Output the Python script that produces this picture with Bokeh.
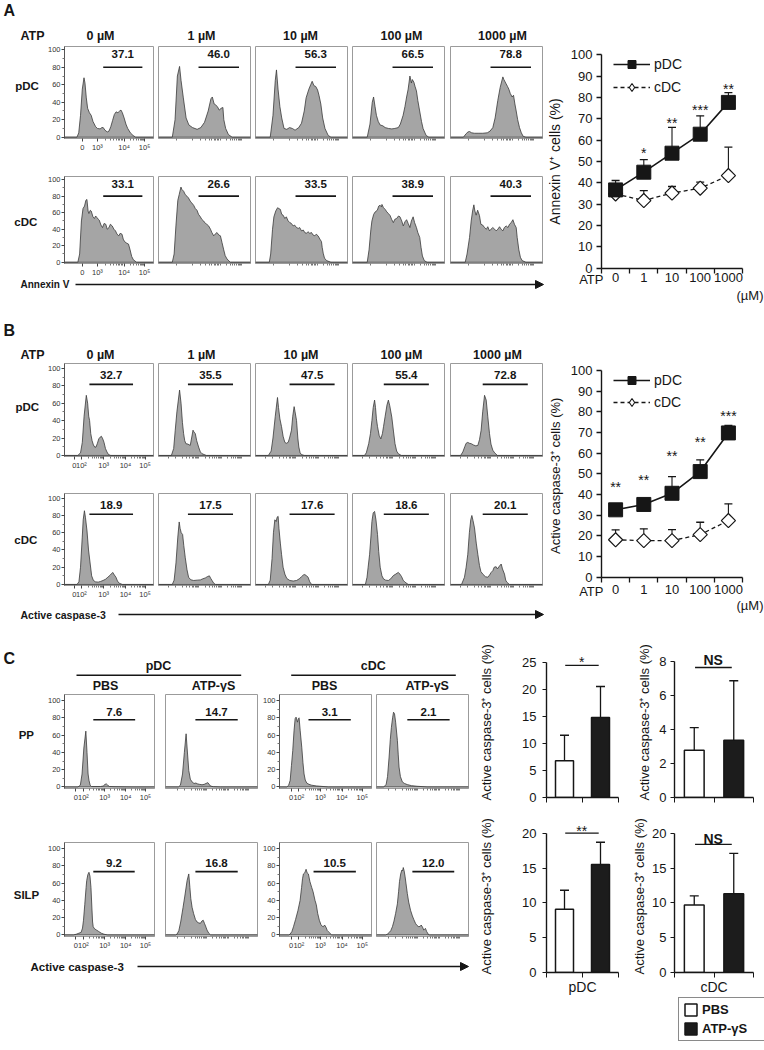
import math
from bokeh.plotting import figure
from bokeh.layouts import row, column
from bokeh.models import (Range1d, FixedTicker, Label, Arrow, NormalHead, Legend, LegendItem,
                          LinearAxis, Spacer)
from bokeh.core.properties import value
from bokeh.embed import file_html
from bokeh.resources import INLINE

FONT = "Liberation Sans"
INK = "#161616"
HIST_FILL = "#a5a5a5"
HIST_LINE = "#3a3a3a"
FRAME = "#9b9b9b"

# ============================ DATA ============================
conc_labels = ["0", "1", "10", "100", "1000"]
conc_headers = ["0 µM", "1 µM", "10 µM", "100 µM", "1000 µM"]

# ---- (A) Annexin V histograms: vertices (display position 0-100, % of mode)
A_pdc_0 = [(14,0),(16,5),(18,25),(20,55),(21.9,68),(23,62),(24.5,45),(26,33),(28,28),(30,25),(32,18),(35,12),(37,10),(40,9.5),(42,11),(43.5,11),(45.5,8),(48,6),(50,7),(52,12),(54,19),(56,26),(58,29),(60,28),(62,30),(63.5,31),(65,28),(67,22),(69,15),(71,10),(74,5),(77,2),(80,0)]
A_pdc_1 = [(15,0),(18,20),(20.5,70),(22.9,81),(24.5,65),(27,45),(30,22),(33,14),(37,11),(42,9),(46,11),(50,17),(54,30),(57,44),(58.5,46),(60.5,38),(62,37),(64,35),(66,31),(68,33),(70,34),(71,20),(73,10),(76,3),(80,0)]
A_pdc_10 = [(16,0),(19,25),(21.5,65),(22.8,77),(24.5,55),(26.5,35),(28.5,22),(31,10),(34,9),(37,11),(40,10),(43,8),(47,11),(50,16),(53,30),(55,45),(58,55),(60,60),(61.6,64),(63.5,59),(65.5,58),(67.5,54),(69,48),(71,38),(73,22),(75.5,10),(79,2),(82,0)]
A_pdc_100 = [(16,0),(19,15),(21.5,40),(22.9,46),(24.5,35),(26,25),(28,18),(30,14),(33,13),(35.5,11),(39,10),(42.7,9.5),(46,10),(49.8,11),(52,15),(55,25),(57,35),(58.8,46),(60.5,55),(62.4,70),(64,62),(65,66),(66.7,63),(68,58),(69.5,53),(71,42),(73,30),(75,18),(76.7,10),(80,2),(83,0)]
A_pdc_1000 = [(14,0),(17,4),(19,6),(20.7,6.5),(23,5),(26,4.5),(30,4.5),(35,4.5),(40,5),(43,7),(46,11),(48.5,22),(51.4,42),(54,57),(56.9,69),(58,66),(60.5,61),(62,58),(63.4,55),(65,50),(67,46),(68.5,48),(70,38),(71.4,30),(73,20),(75,11),(77,5),(79,1),(82,0)]
A_cdc_0 = [(15,0),(17,10),(19,50),(20.8,65),(22.5,68),(24,75),(25.2,76),(26.5,62),(27.4,59),(29,63),(30,62),(32,55),(33.6,53),(35,56),(36.5,54),(38,52),(39,51),(41,45),(42.7,42),(44.5,47),(46.4,46),(48,40),(50,42),(51.5,46),(53.6,44),(55.5,40),(57.3,38),(59,34),(61,32),(62.5,35),(64.6,34),(66,28),(67.5,25),(70,23),(71.9,22),(73.7,15),(75.5,7),(77.4,3),(81,0)]
A_cdc_1 = [(15,0),(17,10),(19,45),(21,75),(22.5,82),(24.4,91),(25.5,88),(27.3,86),(29,82),(30.9,80),(32.5,78),(34.5,74),(36,72),(38.2,69),(40,65),(41.8,63),(43.5,58),(45.5,55),(47,52),(49,50),(51,47),(52.5,46),(54.5,44),(56.5,40),(58,36),(60,32),(61.5,34),(63.6,36),(65.5,33),(67.3,32),(69,24),(70.9,15),(72.5,8),(74.5,4),(78,0)]
A_cdc_10 = [(15,0),(16.5,10),(18.5,40),(20,55),(22,62),(24,66),(25.4,65),(27,64),(28.5,58),(30,57),(31.9,53),(33.5,55),(35.5,50),(37.3,48),(39,47),(40.9,44),(42.5,45),(44.6,42),(46.5,41),(48,42),(50,38),(52,39),(53.5,36),(55.4,35),(57,37),(59,35),(60.9,36),(62.5,33),(64.5,32),(66,34),(68,32),(70,28),(71.7,25),(72.5,18),(73.6,11),(75,5),(77.2,2),(82,0)]
A_cdc_100 = [(16,0),(18,15),(20,40),(21.1,50),(23,58),(24.7,61),(27,63),(28.5,68),(30,69),(31.5,67),(32,70),(33.7,66),(35.5,64),(37.3,61),(39,59),(40.9,56.5),(42.5,52),(44.4,48),(46,52),(48,53),(50,56),(51.6,55),(53.5,50),(55.2,44),(57,49),(58.8,51.5),(60.5,47),(62.4,42),(64,50),(65.9,55),(67.5,48),(69.5,42),(71,36),(73.1,30),(74.5,18),(76,7.6),(78,2),(81,0)]
A_cdc_1000 = [(16,0),(18,10),(20.7,30),(22.5,50),(24,62),(25.4,69.5),(26.5,62),(27.9,57),(29.5,63),(31.5,56.5),(33,46),(35,45),(37,42),(39,40),(40.5,43),(42.4,38),(44,40),(46,42),(48,40),(49.6,38),(51.5,40),(53.3,43),(55,40),(56.9,38),(58.5,42),(60.5,44),(62.5,42),(64.1,46),(66,48),(67.8,51.5),(69.5,46),(71.4,42),(72.5,30),(74.3,15),(76,6),(77.9,2),(82,0)]
A_pdc_hists = [A_pdc_0, A_pdc_1, A_pdc_10, A_pdc_100, A_pdc_1000]
A_cdc_hists = [A_cdc_0, A_cdc_1, A_cdc_10, A_cdc_100, A_cdc_1000]
A_pdc_pct = ["37.1", "46.0", "56.3", "66.5", "78.8"]
A_cdc_pct = ["33.1", "26.6", "33.5", "38.9", "40.3"]
A_gate_lo = [43.5, 43.5, 43.5, 43.5, 43.5]
A_gate_hi = [87.5, 87.5, 87.5, 87.5, 87.5]
A_x_ticks = [20, 37, 67, 90]
A_x_labels = ["0", "10³", "10⁴", "10⁵"]

# ---- (A) summary: Annexin V+ cells (%)
A_pdc_mean = [36.7, 45.0, 53.9, 62.8, 77.7]
A_pdc_upper = [41.1, 50.9, 66.0, 71.4, 82.3]
A_cdc_mean = [34.8, 31.7, 35.2, 37.5, 43.4]
A_cdc_upper = [36.5, 36.4, 38.3, 40.3, 56.7]
A_stars = ["", "*", "**", "***", "**"]
A_star_y = [0, 56, 70, 75.8, 85.7]

# ---- (B) Active caspase-3 histograms
B_pdc_0 = [(15,0),(18,3),(20,15),(22,45),(24.5,69),(26,60),(27.2,45),(28.2,40),(29.5,25),(31,17),(32.5,12),(34,9.6),(35.4,9.6),(37,14),(38.5,19),(40,21),(41.5,22),(43,19),(44.4,15),(46,8),(47.7,4),(49.5,1),(52,0)]
B_pdc_1 = [(14,0),(16.5,8),(18.2,29),(20,50),(22.9,75),(24.5,60),(26,38),(27.3,25),(28.5,17),(29.8,13.5),(32,13),(34.5,11.5),(36,20),(37.5,29),(38.5,27),(40,25),(41.5,17),(43.6,9.6),(45.5,4),(47.3,2),(52,0)]
B_pdc_10 = [(14,0),(17,5),(19,20),(21.5,45),(23.9,66.5),(25,55),(26.5,42),(28.3,33),(30,22),(31.9,15),(33.5,14),(35.5,15),(37,20),(39.1,29),(40.5,45),(42,56),(43,50),(44.6,40),(46,20),(47.1,9.6),(48.5,3),(50,1),(53,0)]
B_pdc_100 = [(13,0),(15,3),(17.6,13.5),(19.5,25),(21.1,40),(22.5,55),(24,63.5),(25,55),(26,42),(27.2,33),(29,23),(30.8,19),(32.5,25),(33.7,33),(35.5,45),(37.5,58),(39,63.5),(40.5,57),(42.7,44),(44.5,28),(46.2,13.5),(48,5),(49.8,2),(53,0)]
B_pdc_1000 = [(11,0),(13.4,4),(15.5,10),(17,14),(18.8,15),(20.5,14),(22.5,13.5),(25,12),(27.5,11),(29.7,11.5),(31.5,18),(33.3,29),(35,50),(37,69),(38.8,63.5),(40.5,45),(42.4,25),(44,13),(46,6),(48,3),(51,0)]
B_cdc_0 = [(14,0),(16.2,3),(18,20),(19.9,54),(21,75),(22.4,85.5),(23.5,78),(25.3,62),(27,40),(28.9,23.7),(30.5,10),(32.5,4.6),(35,3),(37.9,2.7),(40.5,3.5),(43.3,4.6),(46,6),(48.7,8.4),(51.5,11),(54.2,14),(56,11),(57.8,8.4),(59.5,4),(61.4,1.5),(65,0)]
B_cdc_1 = [(15,0),(17,5),(19,25),(21,55),(22.5,72.5),(23.5,65),(24.7,60),(26.2,58),(27.5,45),(29.1,31),(31,17),(32.7,8.4),(35,5.5),(38.2,4.6),(42,5),(45.5,5.3),(48,6.5),(50.9,7.6),(53,9),(55.3,10),(56.8,7),(58.2,4.6),(60,1.5),(62,0)]
B_cdc_10 = [(14,0),(16,5),(18,30),(19.5,60),(21,75),(22.5,73),(23.5,78),(24.6,79),(25.5,65),(27,48),(28.3,35),(30,20),(31.9,12),(34,7),(37.3,4.6),(41,4),(44.6,4.6),(47.5,6.5),(50,9),(52,11),(53.6,11.5),(55.5,10),(57.2,8.4),(59,3),(61,0)]
B_cdc_100 = [(14,0),(15.8,8.4),(17,20),(18.6,35),(20,55),(21.1,73),(22.5,83),(24,84.7),(25.5,75),(27.2,58),(28.5,38),(30.1,20),(32,10),(33.7,6.5),(36,5),(39,4.6),(41.5,6.5),(44.4,10.3),(47,12),(49.8,14),(51.5,12),(53.4,9),(55,5),(57,2.7),(60.6,0)]
B_cdc_1000 = [(12,0),(15.2,8.4),(17,20),(18.8,35),(20.5,60),(22,75),(23.2,80),(24.5,74),(26.1,65.6),(28,48),(29.7,35),(31.5,22),(33,15),(35.1,12),(38,9),(40.6,8.4),(42.5,11),(44.2,14),(46,16),(47.5,20),(49.6,20.6),(51,18),(53,21),(55.1,23.7),(56.5,18),(58.7,12),(60,5),(61.2,2.7),(64,0)]
B_pdc_hists = [B_pdc_0, B_pdc_1, B_pdc_10, B_pdc_100, B_pdc_1000]
B_cdc_hists = [B_cdc_0, B_cdc_1, B_cdc_10, B_cdc_100, B_cdc_1000]
B_pdc_pct = ["32.7", "35.5", "47.5", "55.4", "72.8"]
B_cdc_pct = ["18.9", "17.5", "17.6", "18.6", "20.1"]
B_gate_lo = [28, 32, 37, 34, 35]
B_gate_hi = [77, 81, 86, 83, 84]
B_x_ticks = [11, 19, 44, 68.5, 90.5]
B_x_labels = ["0", "10²", "10³", "10⁴", "10⁵"]

# ---- (B) summary: Active caspase-3+ cells (%)
B_pdc_mean = [32.6, 35.2, 40.6, 51.1, 69.8]
B_pdc_upper = [33.5, 36.0, 48.7, 56.8, 73.4]
B_cdc_mean = [18.1, 17.7, 17.7, 20.6, 27.4]
B_cdc_upper = [22.9, 23.4, 23.0, 26.6, 35.5]
B_stars = ["**", "**", "**", "**", "***"]
B_star_y = [45.5, 49, 60.5, 67.4, 79.8]

# ---- (C) PP / SILP histograms (pDC PBS, pDC ATP-γS, cDC PBS, cDC ATP-γS)
C_pp_pdc_pbs = [(15,0),(17.6,2),(19.5,15),(21.5,45),(23.7,64.6),(25,40),(26.2,15),(27.2,7.7),(28.5,2),(30,0.5),(40,0.5),(43,1),(45,3),(46.5,3.5),(48,2),(50,0.5),(55,0.3),(75,0)]
C_pp_pdc_atp = [(14,0),(16.2,2),(18.5,15),(20.5,40),(22.4,61.5),(23.5,45),(25.3,19),(27,9),(28.9,5.8),(31,4),(33,4.5),(35,3.5),(37,3),(39.7,2.5),(42,3),(44,4),(46,5),(47.5,3),(49,1),(52,0.3),(60,0)]
C_pp_cdc_pbs = [(8,0),(10,2),(11.6,7.7),(13,25),(14.4,42),(15.8,65),(17,79),(18,80.8),(19.5,75),(20.5,79),(21.3,80),(22.5,65),(24.2,46),(25.5,28),(26.7,15),(28,8),(29.6,4.6),(32,3),(35,2),(40,1.2),(44,0.8),(53,0)]
C_pp_cdc_atp = [(8,0),(10.5,3),(12,12),(13.7,34.6),(15,55),(16.2,69),(17.5,80),(18.5,86.5),(19.6,84.6),(20.8,75),(22.7,54),(23.6,38),(24.5,23),(26,12),(28.1,5.8),(30.5,4),(33.5,2.7),(38,1.5),(44,0.8),(55,0)]
C_silp_pdc_pbs = [(10,0),(13,0.8),(16,2),(18.5,3),(20,8),(21.1,17),(22.5,35),(24,55),(24.7,63),(26,70),(27.2,72.5),(28.3,68),(29.4,55),(30.5,30),(31.2,15),(31.9,9.5),(33.5,7),(35.5,5.7),(38,4),(40.9,2),(44,0.8),(48,0)]
C_silp_pdc_atp = [(11,0),(12.6,1),(14.5,5),(16.5,15),(19.1,32),(21,45),(23.5,63),(25.3,70.6),(26.5,55),(27.5,42),(28.9,32),(30.5,25),(32.5,18),(34.3,15),(36,14),(37.9,13.4),(39.5,16),(41,17),(42.5,13),(44,9),(45.1,5.7),(47,2),(49,0)]
C_silp_cdc_pbs = [(10,0),(11.6,1),(13.5,4),(15.2,9.5),(17.5,18),(20,28),(22.4,40),(24,55),(25,65),(26,70.6),(27.5,72),(28.9,76),(30,72),(31.4,70.6),(33,62),(35,55),(36.5,50),(38.6,40),(40,35),(41.5,25),(43.3,17),(45,12),(46.5,10),(47.7,9.5),(49,11.5),(50.5,9),(52,5),(53.1,3.8),(56.7,0)]
C_silp_cdc_atp = [(10,0),(11.9,1),(14,3),(15.5,5),(17.3,9.5),(19,16),(20.8,25),(22.7,36),(24,50),(25,62),(26.3,70.6),(27.5,75),(28.3,74),(29.1,78),(30,74.4),(31,68),(32,60),(33.5,48),(35,38),(37,28.6),(39,22),(40.5,18),(42.4,13.4),(44,11),(46,9.5),(47.5,10),(48.6,11.5),(50,9),(51.4,5.7),(52.3,6.5),(53.2,7.6),(54.5,4),(56.8,0)]
C_pp_hists = [C_pp_pdc_pbs, C_pp_pdc_atp, C_pp_cdc_pbs, C_pp_cdc_atp]
C_silp_hists = [C_silp_pdc_pbs, C_silp_pdc_atp, C_silp_cdc_pbs, C_silp_cdc_atp]
C_pp_pct = ["7.6", "14.7", "3.1", "2.1"]
C_silp_pct = ["9.2", "16.8", "10.5", "12.0"]
C_pp_gate_lo = [32, 32.5, 31.5, 33.5]
C_pp_gate_hi = [78.5, 78.5, 77.5, 79.5]
C_silp_gate_lo = [32, 32.5, 37, 39]
C_silp_gate_hi = [78, 78.5, 83, 84.5]
C_x_ticks = [12.5, 21, 44.5, 68, 90]
C_x_labels = ["0", "10²", "10³", "10⁴", "10⁵"]
C_cell_headers = ["pDC", "cDC"]
C_treat_headers = ["PBS", "ATP-γS", "PBS", "ATP-γS"]

# ---- (C) bar charts: Active caspase-3+ cells (%)
bar_groups = ["PBS", "ATP-γS"]
C_pp_pdc_bar = [6.8, 14.8]
C_pp_pdc_upper = [11.5, 20.5]
C_pp_cdc_bar = [2.78, 3.36]
C_pp_cdc_upper = [4.1, 6.85]
C_silp_pdc_bar = [9.1, 15.5]
C_silp_pdc_upper = [11.8, 18.7]
C_silp_cdc_bar = [9.7, 11.3]
C_silp_cdc_upper = [11.0, 17.1]
C_sig = ["*", "NS", "**", "NS"]
C_sig_line_y = [24.4, 7.63, 20.0, 18.4]
C_sig_text_y = [25.7, 8.06, 20.96, 19.1]


# ============================ HELPERS ============================
def log_minors(majors):
    out = []
    for a, b in zip(majors[1:-1], majors[2:]):
        out += [a + (b - a) * math.log10(k) for k in range(2, 10)]
    return out


def add_label(p, x, y, text, size, bold=True, align="left", baseline="middle", color=INK):
    p.add_layout(Label(x=x, y=y, text=text, text_font=FONT, text_font_size=f"{size}px",
                       text_font_style="bold" if bold else "normal", text_align=align,
                       text_baseline=baseline, text_color=color))


def strip(w, h):
    p = figure(width=w, height=h, x_range=Range1d(0, w), y_range=Range1d(0, h), min_border=0,
               toolbar_location=None, output_backend="svg", x_axis_location=None, y_axis_location=None)
    p.grid.visible = False
    p.outline_line_color = None
    return p


def hist_row(hists, pcts, glo, ghi, gy, ty, yr, lbs, rbs, tb, fh, bb, ycols, xt, xtl, rlabel, rl_xy):
    lab = strip(44, tb + fh + bb)
    add_label(lab, rl_xy[0], rl_xy[1], rlabel, 11.5, align="center")
    figs = [lab]
    minors = log_minors(xt)
    for i, poly in enumerate(hists):
        fw = 92
        p = figure(width=lbs[i] + fw + rbs[i], height=tb + fh + bb,
                   x_range=Range1d(0, 100), y_range=Range1d(*yr),
                   min_border_left=lbs[i], min_border_right=rbs[i], min_border_top=tb, min_border_bottom=bb,
                   toolbar_location=None, output_backend="svg",
                   y_axis_location="left" if i in ycols else None)
        p.grid.visible = False
        p.outline_line_color = FRAME
        xs = [0] + [v[0] for v in poly] + [100]
        ys = [0] + [v[1] for v in poly] + [0]
        p.patch(xs, ys, fill_color=HIST_FILL, line_color=HIST_LINE, line_width=0.8)
        p.segment([glo[i]], [gy], [ghi[i]], [gy], line_color=INK, line_width=1.6)
        p.text([(glo[i] + ghi[i]) / 2], [ty], text=[pcts[i]], text_font=value(FONT), text_font_style="bold",
               text_font_size="11.5px", text_align="center", text_baseline="middle", text_color=INK)
        xa = p.xaxis[0]
        if i in ycols:
            xa.ticker = FixedTicker(ticks=xt, minor_ticks=minors)
            xa.major_label_overrides = {t: l for t, l in zip(xt, xtl)}
        else:
            xa.ticker = FixedTicker(ticks=[], minor_ticks=xt + minors)
        xa.axis_line_color = FRAME
        xa.major_tick_out = 3
        xa.major_tick_in = 0
        xa.minor_tick_out = 2
        xa.minor_tick_in = 0
        xa.major_tick_line_color = "#444444"
        xa.minor_tick_line_color = "#777777"
        xa.major_label_standoff = 1
        xa.major_label_text_font = FONT
        xa.major_label_text_font_size = "7.5px"
        xa.major_label_text_color = "#333333"
        if i in ycols:
            ya = p.yaxis[0]
            ya.ticker = FixedTicker(ticks=[0, 20, 40, 60, 80, 100], minor_ticks=[10, 30, 50, 70, 90])
            ya.axis_line_color = "#555555"
            ya.major_tick_out = 3
            ya.major_tick_in = 0
            ya.minor_tick_out = 2
            ya.minor_tick_in = 0
            ya.major_tick_line_color = "#444444"
            ya.minor_tick_line_color = "#777777"
            ya.major_label_standoff = 1
            ya.major_label_text_font = FONT
            ya.major_label_text_font_size = "7.5px"
            ya.major_label_text_color = "#333333"
        figs.append(p)
    return row(*figs)


def line_chart(fig_h, y_lo, y_hi, pdc, pdc_up, cdc, cdc_up, stars, star_y, ylabel, ylab_size,
               lbl_standoff, atp_y, um_y, leg_vy, leg_sp):
    # frame covers the whole figure; axes are pinned at x=0 / y=0 so that the
    # "ATP" and "(µM)" captions can sit outside the axes
    p = figure(width=216, height=fig_h, x_range=Range1d(-1.8794, 5.780), y_range=Range1d(y_lo, y_hi),
               min_border=0, x_axis_location=None, y_axis_location=None,
               toolbar_location=None, output_backend="svg")
    p.grid.visible = False
    p.outline_line_color = None
    xs = [i + 0.5 for i in range(len(conc_labels))]
    # cDC
    p.segment(xs, cdc, xs, cdc_up, line_color=INK, line_width=1.1)
    p.scatter(xs, cdc_up, marker="dash", size=8, line_color=INK, line_width=1.3)
    l2 = p.line(xs, cdc, line_color=INK, line_width=1.3, line_dash="4 3")
    p.scatter(xs, cdc, marker="square", angle=math.pi / 4, size=10, fill_color="white",
              line_color=INK, line_width=1.2)
    # legend swatch for the open diamond (zero-size glyph, only drawn in the legend)
    m2_key = p.scatter(xs[:1], cdc[:1], marker="diamond", size=0, fill_color="white",
                       line_color=INK, line_width=1.1)
    # pDC
    p.segment(xs, pdc, xs, pdc_up, line_color=INK, line_width=1.1)
    p.scatter(xs, pdc_up, marker="dash", size=8, line_color=INK, line_width=1.3)
    l1 = p.line(xs, pdc, line_color=INK, line_width=1.6)
    m1 = p.scatter(xs, pdc, marker="square", size=14, fill_color=INK, line_color=INK)
    p.text(xs, star_y, text=stars, text_font=value(FONT), text_font_size="14px", text_align="center",
           text_baseline="middle", text_color=INK, y_offset=4)
    leg = Legend(items=[LegendItem(label="pDC", renderers=[l1, m1]), LegendItem(label="cDC", renderers=[l2, m2_key])],
                 location=(65, leg_vy), margin=0, padding=0, spacing=leg_sp, glyph_width=37, glyph_height=20,
                 label_height=20, label_standoff=4, label_text_font=FONT, label_text_font_size="14px",
                 label_text_color=INK, border_line_color=None, background_fill_alpha=0)
    p.add_layout(leg)

    xa = LinearAxis(fixed_location=0, bounds=(0, 5))
    xa.ticker = FixedTicker(ticks=xs, minor_ticks=[0, 1, 2, 3, 4, 5])
    xa.major_label_overrides = {x: l for x, l in zip(xs, conc_labels)}
    xa.major_tick_line_color = None
    xa.major_tick_out = 5
    xa.minor_tick_out = 5
    xa.minor_tick_in = 0
    xa.minor_tick_line_color = INK
    xa.minor_tick_line_width = 1.3
    xa.axis_line_color = INK
    xa.axis_line_width = 1.4
    xa.major_label_standoff = lbl_standoff
    xa.major_label_text_font = FONT
    xa.major_label_text_font_size = "13px"
    xa.major_label_text_color = INK
    p.add_layout(xa, "below")

    ya = LinearAxis(fixed_location=0, bounds=(0, 100))
    ya.ticker = FixedTicker(ticks=list(range(0, 101, 10)))
    ya.axis_line_color = INK
    ya.axis_line_width = 1.4
    ya.major_tick_out = 5
    ya.major_tick_in = 0
    ya.major_tick_line_color = INK
    ya.major_tick_line_width = 1.3
    ya.minor_tick_line_color = None
    ya.major_label_standoff = 4
    ya.major_label_text_font = FONT
    ya.major_label_text_font_size = "13px"
    ya.major_label_text_color = INK
    ya.axis_label = ylabel
    ya.axis_label_standoff = 5
    ya.axis_label_text_font = FONT
    ya.axis_label_text_font_size = f"{ylab_size}px"
    ya.axis_label_text_font_style = "normal"
    ya.axis_label_text_color = INK
    p.add_layout(ya, "left")

    add_label(p, 0.07, atp_y, "ATP", 13, bold=False, align="right")
    add_label(p, 5.745, um_y, "(µM)", 13, bold=False, align="right")
    return p


def bar_chart(lb, fw, rb, tb, fh, bb, ytop, yticks, vals, ups, sig, sig_ly, sig_ty, xlabel,
              ylab_standoff, tick_standoff):
    p = figure(width=lb + fw + rb, height=tb + fh + bb, x_range=Range1d(0, 2), y_range=Range1d(0, ytop),
               min_border_left=lb, min_border_right=rb, min_border_top=tb, min_border_bottom=bb,
               toolbar_location=None, output_backend="svg")
    p.grid.visible = False
    p.outline_line_color = None
    xs = [i + 0.5 for i in range(len(bar_groups))]
    p.vbar(x=[xs[0]], top=[vals[0]], width=0.5, fill_color="white", line_color=INK, line_width=1.5)
    p.vbar(x=[xs[1]], top=[vals[1]], width=0.5, fill_color="#1c1c1c", line_color=INK, line_width=1.5)
    p.segment(xs, vals, xs, ups, line_color=INK, line_width=1.3)
    p.scatter(xs, ups, marker="dash", size=9, line_color=INK, line_width=1.4)
    p.segment([xs[0] + 0.02], [sig_ly], [xs[1] - 0.05], [sig_ly], line_color=INK, line_width=1.3)
    p.text([(xs[0] + xs[1]) / 2 - 0.02], [sig_ty], text=[sig], text_font=value(FONT), text_font_size="14px",
           text_font_style="bold" if sig == "NS" else "normal",
           text_align="center", text_baseline="middle", text_color=INK,
           y_offset=4 if "*" in sig else 0)
    xa = p.xaxis[0]
    if xlabel:
        xa.ticker = FixedTicker(ticks=[1], minor_ticks=[0, 2])
        xa.major_label_overrides = {1: xlabel}
    else:
        xa.ticker = FixedTicker(ticks=[], minor_ticks=[0, 1, 2])
    xa.major_tick_out = 5
    xa.major_tick_in = 0
    xa.minor_tick_out = 5
    xa.minor_tick_in = 0
    xa.major_tick_line_color = INK
    xa.minor_tick_line_color = INK
    xa.axis_line_color = INK
    xa.axis_line_width = 1.4
    xa.major_label_standoff = 1
    xa.major_label_text_font = FONT
    xa.major_label_text_font_size = "14px"
    xa.major_label_text_color = INK
    ya = p.yaxis[0]
    ya.ticker = FixedTicker(ticks=yticks)
    ya.bounds = (0, yticks[-1])
    ya.axis_line_color = INK
    ya.axis_line_width = 1.4
    ya.major_tick_out = 4
    ya.major_tick_in = 0
    ya.major_tick_line_color = INK
    ya.minor_tick_line_color = None
    ya.major_label_standoff = tick_standoff
    ya.major_label_text_font = FONT
    ya.major_label_text_font_size = "13px"
    ya.major_label_text_color = INK
    ya.axis_label = "Active caspase-3⁺ cells  (%)"
    ya.axis_label_standoff = ylab_standoff
    ya.axis_label_text_font = FONT
    ya.axis_label_text_font_size = "13px"
    ya.axis_label_text_font_style = "normal"
    ya.axis_label_text_color = INK
    return p


def bar_legend(w, h):
    p = figure(width=w, height=h, x_range=Range1d(0, 1), y_range=Range1d(0, 1), min_border=0,
               toolbar_location=None, output_backend="svg", x_axis_location=None, y_axis_location=None)
    p.grid.visible = False
    p.outline_line_color = None
    # zero-size bars: they only supply the legend swatches
    r_pbs = p.vbar(x=[0.5], top=[0], width=0, fill_color="white", line_color=INK, line_width=1.5)
    r_atp = p.vbar(x=[0.5], top=[0], width=0, fill_color="#1c1c1c", line_color=INK, line_width=1.5)
    leg = Legend(items=[LegendItem(label=bar_groups[0], renderers=[r_pbs]),
                        LegendItem(label=bar_groups[1], renderers=[r_atp])],
                 location="top_left", margin=0, padding=4, spacing=4, glyph_width=15, glyph_height=15,
                 label_height=15, label_width=58, label_standoff=4, label_text_font=FONT,
                 label_text_font_size="13px", label_text_font_style="bold", label_text_color=INK,
                 border_line_color=INK, border_line_width=1, background_fill_color="white")
    p.add_layout(leg)
    return p


# ============================ PANEL A ============================
LBS5 = [17, 4, 4, 4, 5]
RBS5 = [1, 1, 1, 1, 6]
A_YR = (-1.5, 103.8)

hA = strip(548, 44)
add_label(hA, 3, 43, "A", 16, baseline="top")
add_label(hA, 20, 9, "ATP", 12.5)
for cx, h in zip([100, 201, 300, 401, 502], conc_headers):
    add_label(hA, cx, 9, h, 12.5, align="center")

A_r1 = hist_row(A_pdc_hists, A_pdc_pct, A_gate_lo, A_gate_hi, 80, 95, A_YR, LBS5, RBS5, 2, 92, 22,
                [0], A_x_ticks, A_x_labels, "pDC", (26.5, 66.5))
A_r2 = hist_row(A_cdc_hists, A_cdc_pct, A_gate_lo, A_gate_hi, 80, 95, A_YR, LBS5, RBS5, 16, 90, 13,
                [0], A_x_ticks, A_x_labels, "cDC", (25.3, 57))
aA = strip(548, 29)
add_label(aA, 20, 24, "Annexin V", 10)
aA.add_layout(Arrow(x_start=75, y_start=24, x_end=543, y_end=24, line_width=1.5, line_color=INK,
                    end=NormalHead(size=8, fill_color=INK, line_color=INK)))

lineA = line_chart(308, -18.88, 125.45, A_pdc_mean, A_pdc_upper, A_cdc_mean, A_cdc_upper, A_stars, A_star_y,
                   "Annexin V⁺ cells (%)", 14, 0, -5.5, -12.8, 211, 3)
panelA = row(column(hA, A_r1, A_r2, aA), lineA)

# ============================ PANEL B ============================
B_YR = (-1.2, 105.5)
hB = strip(548, 53)
add_label(hB, 3, 40, "B", 16, baseline="top")
add_label(hB, 20, 6.5, "ATP", 12.5)
for cx, h in zip([100, 201, 300.5, 401, 497], conc_headers):
    add_label(hB, cx, 6.5, h, 12.5, align="center")

B_r1 = hist_row(B_pdc_hists, B_pdc_pct, B_gate_lo, B_gate_hi, 81.5, 92.3, B_YR, LBS5, RBS5, 2, 93, 22,
                [0], B_x_ticks, B_x_labels, "pDC", (26.7, 62))
B_r2 = hist_row(B_cdc_hists, B_cdc_pct, B_gate_lo, B_gate_hi, 81.5, 92.3, B_YR, LBS5, RBS5, 15, 92, 20,
                [0], B_x_ticks, B_x_labels, "cDC", (25.3, 62.5))
aB = strip(548, 27)
add_label(aB, 20, 18, "Active caspase-3", 10.5)
aB.add_layout(Arrow(x_start=118, y_start=18, x_end=543, y_end=18, line_width=1.5, line_color=INK,
                    end=NormalHead(size=8, fill_color=INK, line_color=INK)))

lineB = line_chart(324, -26.75, 130.0, B_pdc_mean, B_pdc_upper, B_cdc_mean, B_cdc_upper, B_stars, B_star_y,
                   "Active caspase-3⁺ cells  (%)", 13, 3, -7.06, -13.7, 220, 2)
panelB = row(column(hB, B_r1, B_r2, aB), lineB)

# ============================ PANEL C ============================
C_YR = (-1.8, 107)
LBS4 = [18, 10, 21, 4]
RBS4 = [1, 1, 1, 8]
hC = strip(476, 60)
add_label(hC, 3, 43, "C", 16, baseline="top")
for cx, x0, x1, h in zip([158, 372.7], [76, 290.7], [240.7, 455.3], C_cell_headers):
    add_label(hC, cx, 27, h, 12.5, align="center")
    hC.segment([x0], [17.3], [x1], [17.3], line_color=INK, line_width=1.6)
for cx, h in zip([105, 213, 324, 426.7], C_treat_headers):
    add_label(hC, cx, 7, h, 12.5, align="center")

C_r1 = hist_row(C_pp_hists, C_pp_pct, C_pp_gate_lo, C_pp_gate_hi, 77.7, 87.3, C_YR, LBS4, RBS4, 2, 94, 17,
                [0, 2], C_x_ticks, C_x_labels, "PP", (25.8, 64))
C_r2 = hist_row(C_silp_hists, C_silp_pct, C_silp_gate_lo, C_silp_gate_hi, 73.3, 82.8, C_YR, LBS4, RBS4, 37, 95, 15,
                [0, 2], C_x_ticks, C_x_labels, "SILP", (26, 65.3))
aC = strip(476, 94)
add_label(aC, 30, 80, "Active caspase-3", 11.5)
aC.add_layout(Arrow(x_start=137, y_start=80, x_end=468, y_end=80, line_width=1.5, line_color=INK,
                    end=NormalHead(size=8, fill_color=INK, line_color=INK)))

bTL = bar_chart(69, 73, 10, 11, 154, 18, 28.45, [0, 5, 10, 15, 20, 25], C_pp_pdc_bar, C_pp_pdc_upper,
                C_sig[0], C_sig_line_y[0], C_sig_text_y[0], None, 25, 6)
bTR = bar_chart(46, 79, 11, 11, 154, 18, 9.04, [0, 2, 4, 6, 8], C_pp_cdc_bar, C_pp_cdc_upper,
                C_sig[1], C_sig_line_y[1], C_sig_text_y[1], None, 4, 4)
bBL = bar_chart(69, 73, 10, 1, 156, 74, 22.4, [0, 5, 10, 15, 20], C_silp_pdc_bar, C_silp_pdc_upper,
                C_sig[2], C_sig_line_y[2], C_sig_text_y[2], "pDC", 25, 6)
bBR = bar_chart(46, 79, 11, 1, 156, 25, 22.4, [0, 5, 10, 15, 20], C_silp_cdc_bar, C_silp_cdc_upper,
                C_sig[3], C_sig_line_y[3], C_sig_text_y[3], "cDC", 2, 4)
legC = bar_legend(86, 49)

panelC = row(column(hC, C_r1, C_r2, aC),
             column(row(bTL, bTR), row(bBL, column(bBR, row(Spacer(width=50, height=49), legC)))))

page = column(panelA, panelB, panelC)
open("out.html", "w").write(file_html(page, INLINE))
